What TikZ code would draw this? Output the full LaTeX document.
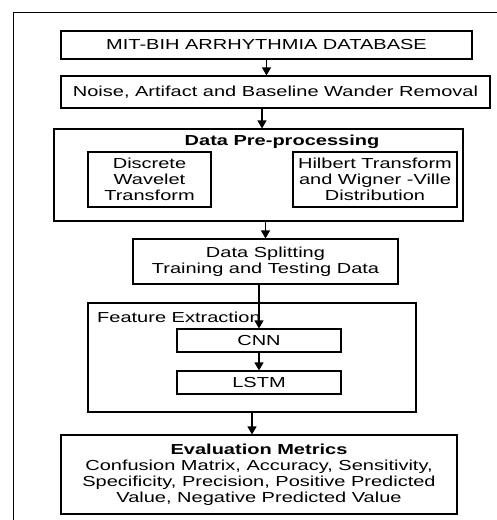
\documentclass[tikz,border=0pt]{standalone}
\usepackage{fontspec}
\setmainfont{Liberation Sans}[FakeStretch=1.38]
\usepackage{tikz}
\usetikzlibrary{arrows.meta,positioning,calc}

\begin{document}
\begin{tikzpicture}[x=1pt, y=-1pt, >={Triangle[width=9pt,length=8pt]},
  box/.style={draw, line width=1.1pt, align=center, inner sep=0pt},
  flow/.style={->, line width=1.2pt},
  every node/.style={font=\fontsize{14.5}{16}\selectfont}]
  \useasboundingbox (0,0) rectangle (497,520);
  % frame
  \draw[line width=1pt] (13,520) -- (13,12) -- (497,12);
  \node[box, minimum width=411pt, minimum height=28pt] (db) at (266.5,45) {MIT-BIH ARRHYTHMIA DATABASE};
  \node[box, minimum width=429pt, minimum height=32pt] (noise) at (275.5,92) {Noise, Artifact and Baseline Wander Removal};
  \node[box, minimum width=409pt, minimum height=92pt] (pre) at (258.5,175) {};
  \node[font=\fontsize{14.5}{16}\selectfont\bfseries] (pretitle) at (282,142) {Data Pre-processing};
  \node[box, minimum width=123pt, minimum height=55pt] (dwt) at (149.5,179.5) {Discrete\\Wavelet\\Transform};
  \node[box, minimum width=164pt, minimum height=55pt] (hwv) at (375,179.5) {Hilbert Transform\\and Wigner -Ville\\Distribution};
  \node[box, minimum width=265pt, minimum height=45pt] (split) at (265.5,261.5) {Data Splitting\\Training and Testing Data};
  \node[box, minimum width=328pt, minimum height=109pt] (feat) at (252,357.5) {};
  \node[anchor=west, inner sep=0pt] (featlabel) at (97,317) {Feature Extraction};
  \node[box, minimum width=164pt, minimum height=23pt] (cnn) at (259,340.5) {CNN};
  \node[box, minimum width=164pt, minimum height=23pt] (lstm) at (259,382.5) {LSTM};
  \node[box, minimum width=396pt, minimum height=79pt] (eval) at (259,474.5) {\textbf{Evaluation Metrics}\\Confusion Matrix, Accuracy, Sensitivity,\\Specificity, Precision, Positive Predicted\\Value, Negative Predicted Value};
  % arrows
  \draw[flow] (db.south) -- (db.south |- noise.north);
  \draw[flow] ($(pre.north |- noise.south)+(3.5,0)$) -- ($(pre.north)+(3.5,0)$);
  \draw[flow] (split.north |- pre.south) -- (split.north);
  \draw[flow] (cnn.north |- split.south) -- (cnn.north);
  \draw[flow] (cnn.south) -- (lstm.north);
  \draw[flow] (feat.south) -- (feat.south |- eval.north);
\end{tikzpicture}
\end{document}
